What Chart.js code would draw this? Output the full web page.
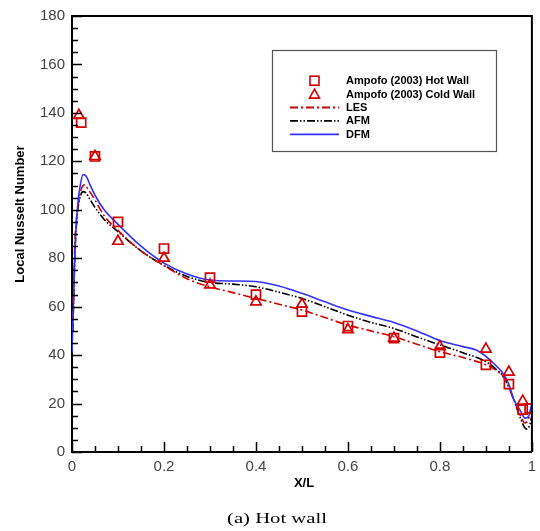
<!DOCTYPE html>
<html>
<head>
<meta charset="utf-8">
<script src="https://cdn.jsdelivr.net/npm/chart.js@4.4.0/dist/chart.umd.min.js"></script>
<style>
  html, body { margin: 0; padding: 0; background: #fff; }
  canvas { display: block; }
</style>
</head>
<body>
<canvas id="nu-chart" width="540" height="531"></canvas>
<script>
// Ampofo (2003) measurements
const hotX  = [0.02, 0.05, 0.1, 0.2, 0.3, 0.4, 0.5, 0.6, 0.7, 0.8, 0.9, 0.95, 0.98, 0.995];
const hotNu = [136, 122, 95, 84, 72, 65, 58, 52, 47, 41, 36, 28, 17.5, 18];
const coldX  = [0.015, 0.05, 0.1, 0.2, 0.3, 0.4, 0.5, 0.6, 0.7, 0.8, 0.9, 0.95, 0.98];
const coldNu = [139, 122, 87, 80, 69, 62, 61, 50.5, 47, 43.5, 42.5, 33, 21];

// model curves
const lesX  = [0.002, 0.006, 0.01, 0.015, 0.02, 0.027, 0.035, 0.05, 0.07, 0.1, 0.15, 0.2, 0.25, 0.3, 0.35, 0.4, 0.45, 0.5, 0.55, 0.6, 0.65, 0.7, 0.75, 0.8, 0.85, 0.9, 0.92, 0.94, 0.96, 0.975, 0.985, 0.993, 1.0];
const lesNu = [55, 85, 97, 104, 108.5, 110.3, 108.5, 104, 97.5, 91.5, 83, 77, 71.5, 68.2, 65.8, 63.4, 61, 58.6, 55.5, 52.4, 50, 47.6, 44.5, 41.4, 39, 36, 34, 30.5, 22, 15, 12, 14, 19];
const afmX  = [0.002, 0.006, 0.01, 0.015, 0.024, 0.03, 0.04, 0.05, 0.07, 0.1, 0.15, 0.2, 0.25, 0.3, 0.35, 0.4, 0.45, 0.5, 0.55, 0.6, 0.65, 0.7, 0.75, 0.8, 0.85, 0.9, 0.92, 0.94, 0.96, 0.975, 0.988, 0.995, 1.0];
const afmNu = [50, 80, 95, 103, 107.5, 107, 104, 101, 96, 91, 83, 77, 72.5, 70, 69.3, 68.2, 66, 63.4, 60, 56.5, 53.5, 51, 47.5, 44.2, 41, 37.3, 34.5, 30.5, 22, 14, 9.5, 11, 15];
const dfmX  = [0, 0.003, 0.006, 0.009, 0.013, 0.017, 0.024, 0.03, 0.04, 0.05, 0.07, 0.1, 0.15, 0.2, 0.25, 0.3, 0.35, 0.4, 0.45, 0.5, 0.55, 0.6, 0.65, 0.7, 0.75, 0.8, 0.85, 0.88, 0.9, 0.92, 0.935, 0.95, 0.96, 0.975, 0.985, 0.992, 1.0];
const dfmNu = [41, 60, 80, 93, 103, 109, 114.5, 114, 110, 106, 100, 94, 85, 78, 73.5, 71, 70.6, 70.4, 68.5, 65.5, 62, 58.6, 56, 53.5, 50, 46, 43.5, 42, 39.5, 36, 33, 28, 22, 17, 14, 14.5, 20];

const RED = 'rgb(210,0,0)';
const BLUE = 'rgb(50,50,255)';
const TICK_FONT = { family: "'Liberation Sans', Arial, sans-serif", size: 15 };

function pts(xs, ys) {
  return xs.map(function (v, i) { return { x: v, y: ys[i] }; });
}

const legendRows = [
  { text: 'Ampofo (2003) Hot Wall', kind: 'rect' },
  { text: 'Ampofo (2003) Cold Wall', kind: 'triangle' },
  { text: 'LES', kind: 'line', color: RED, dash: [8, 3, 2, 3] },
  { text: 'AFM', kind: 'line', color: '#000', dash: [8, 2, 1.5, 2, 1.5, 2] },
  { text: 'DFM', kind: 'line', color: BLUE, dash: [] }
];

const decor = {
  id: 'decor',
  afterDraw(chart) {
    const { ctx, chartArea: a, scales: { x, y } } = chart;
    ctx.save();
    // top and right frame
    ctx.strokeStyle = '#000';
    ctx.lineWidth = 2;
    ctx.beginPath();
    ctx.moveTo(a.left, a.top);
    ctx.lineTo(a.right, a.top);
    ctx.lineTo(a.right, a.bottom);
    ctx.stroke();

    // inner ticks
    ctx.lineWidth = 1.5;
    ctx.beginPath();
    for (let i = 0; i <= 20; i++) {
      const px = Math.round(x.getPixelForValue(i * 0.05)) + 0.5;
      const len = i % 4 === 0 ? 10 : 6;
      ctx.moveTo(px, a.bottom);
      ctx.lineTo(px, a.bottom - len);
    }
    for (let i = 0; i <= 36; i++) {
      const py = Math.round(y.getPixelForValue(i * 5)) + 0.5;
      const len = i % 4 === 0 ? 10 : 6;
      ctx.moveTo(a.left, py);
      ctx.lineTo(a.left + len, py);
    }
    ctx.stroke();

    // axis titles
    ctx.fillStyle = '#000';
    ctx.font = "bold 13px 'Liberation Sans', Arial, sans-serif";
    ctx.textAlign = 'center';
    ctx.textBaseline = 'middle';
    ctx.fillText('X/L', 304, 483);
    ctx.save();
    ctx.translate(20, 214);
    ctx.rotate(-Math.PI / 2);
    ctx.fillText('Local Nusselt Number', 0, 0);
    ctx.restore();

    // caption
    ctx.save();
    ctx.translate(277, 519);
    ctx.scale(1.38, 1);
    ctx.font = "15px 'Liberation Serif', 'Times New Roman', serif";
    ctx.fillText('(a) Hot wall', 0, 0);
    ctx.restore();

    // legend box
    ctx.strokeStyle = '#555';
    ctx.lineWidth = 1.2;
    ctx.strokeRect(272.5, 50.5, 224, 101);
    ctx.font = "bold 11px 'Liberation Sans', Arial, sans-serif";
    ctx.textAlign = 'left';
    legendRows.forEach(function (row, i) {
      const cy = 80.7 + i * 13.4;
      ctx.lineWidth = 1.6;
      if (row.kind === 'rect') {
        ctx.strokeStyle = RED;
        ctx.setLineDash([]);
        ctx.strokeRect(310, cy - 4.5, 9, 9);
      } else if (row.kind === 'triangle') {
        ctx.strokeStyle = RED;
        ctx.setLineDash([]);
        ctx.beginPath();
        ctx.moveTo(314.5, cy - 5);
        ctx.lineTo(319.5, cy + 4);
        ctx.lineTo(309.5, cy + 4);
        ctx.closePath();
        ctx.stroke();
      } else {
        ctx.strokeStyle = row.color;
        ctx.lineWidth = 1.8;
        ctx.setLineDash(row.dash);
        ctx.beginPath();
        ctx.moveTo(290, cy);
        ctx.lineTo(339, cy);
        ctx.stroke();
        ctx.setLineDash([]);
      }
      ctx.fillStyle = '#000';
      ctx.fillText(row.text, 346, cy + 0.5);
    });
    ctx.restore();
  }
};

function plainTick(v) {
  return String(Math.round(v * 100) / 100);
}

new Chart(document.getElementById('nu-chart'), {
  type: 'scatter',
  data: {
    datasets: [
      {
        label: 'Ampofo (2003) Hot Wall',
        data: pts(hotX, hotNu),
        pointStyle: 'rect',
        pointRadius: 6.4,
        borderColor: RED,
        backgroundColor: 'rgba(0,0,0,0)',
        borderWidth: 1.7,
        order: 0
      },
      {
        label: 'Ampofo (2003) Cold Wall',
        data: pts(coldX, coldNu),
        pointStyle: 'triangle',
        pointRadius: 6,
        borderColor: RED,
        backgroundColor: 'rgba(0,0,0,0)',
        borderWidth: 1.7,
        order: 0
      },
      {
        label: 'LES',
        data: pts(lesX, lesNu),
        showLine: true,
        pointRadius: 0,
        borderColor: RED,
        borderWidth: 1.6,
        borderDash: [8, 3, 2, 3],
        cubicInterpolationMode: 'monotone',
        order: 2
      },
      {
        label: 'AFM',
        data: pts(afmX, afmNu),
        showLine: true,
        pointRadius: 0,
        borderColor: '#000',
        borderWidth: 1.6,
        borderDash: [8, 2, 1.5, 2, 1.5, 2],
        cubicInterpolationMode: 'monotone',
        order: 2
      },
      {
        label: 'DFM',
        data: pts(dfmX, dfmNu),
        showLine: true,
        pointRadius: 0,
        borderColor: BLUE,
        borderWidth: 1.6,
        cubicInterpolationMode: 'monotone',
        order: 1
      }
    ]
  },
  options: {
    responsive: false,
    animation: false,
    layout: { padding: { left: 0, right: 2, top: 16, bottom: 41 } },
    plugins: {
      legend: { display: false },
      tooltip: { enabled: false }
    },
    scales: {
      x: {
        type: 'linear',
        min: 0,
        max: 1,
        ticks: { stepSize: 0.2, font: TICK_FONT, color: '#444', padding: 6, callback: plainTick },
        grid: { display: false, drawTicks: false },
        border: { display: true, color: '#000', width: 2 },
        afterFit: function (s) {
          s.height = 38;
          s.paddingLeft = 0;
          s.paddingRight = 0;
        }
      },
      y: {
        min: 0,
        max: 180,
        ticks: { stepSize: 20, font: TICK_FONT, color: '#444', padding: 7, callback: plainTick },
        grid: { display: false, drawTicks: false },
        border: { display: true, color: '#000', width: 2 },
        afterFit: function (s) {
          s.width = 72;
          s.paddingTop = 0;
          s.paddingBottom = 0;
        }
      }
    }
  },
  plugins: [decor]
});
</script>
</body>
</html>
